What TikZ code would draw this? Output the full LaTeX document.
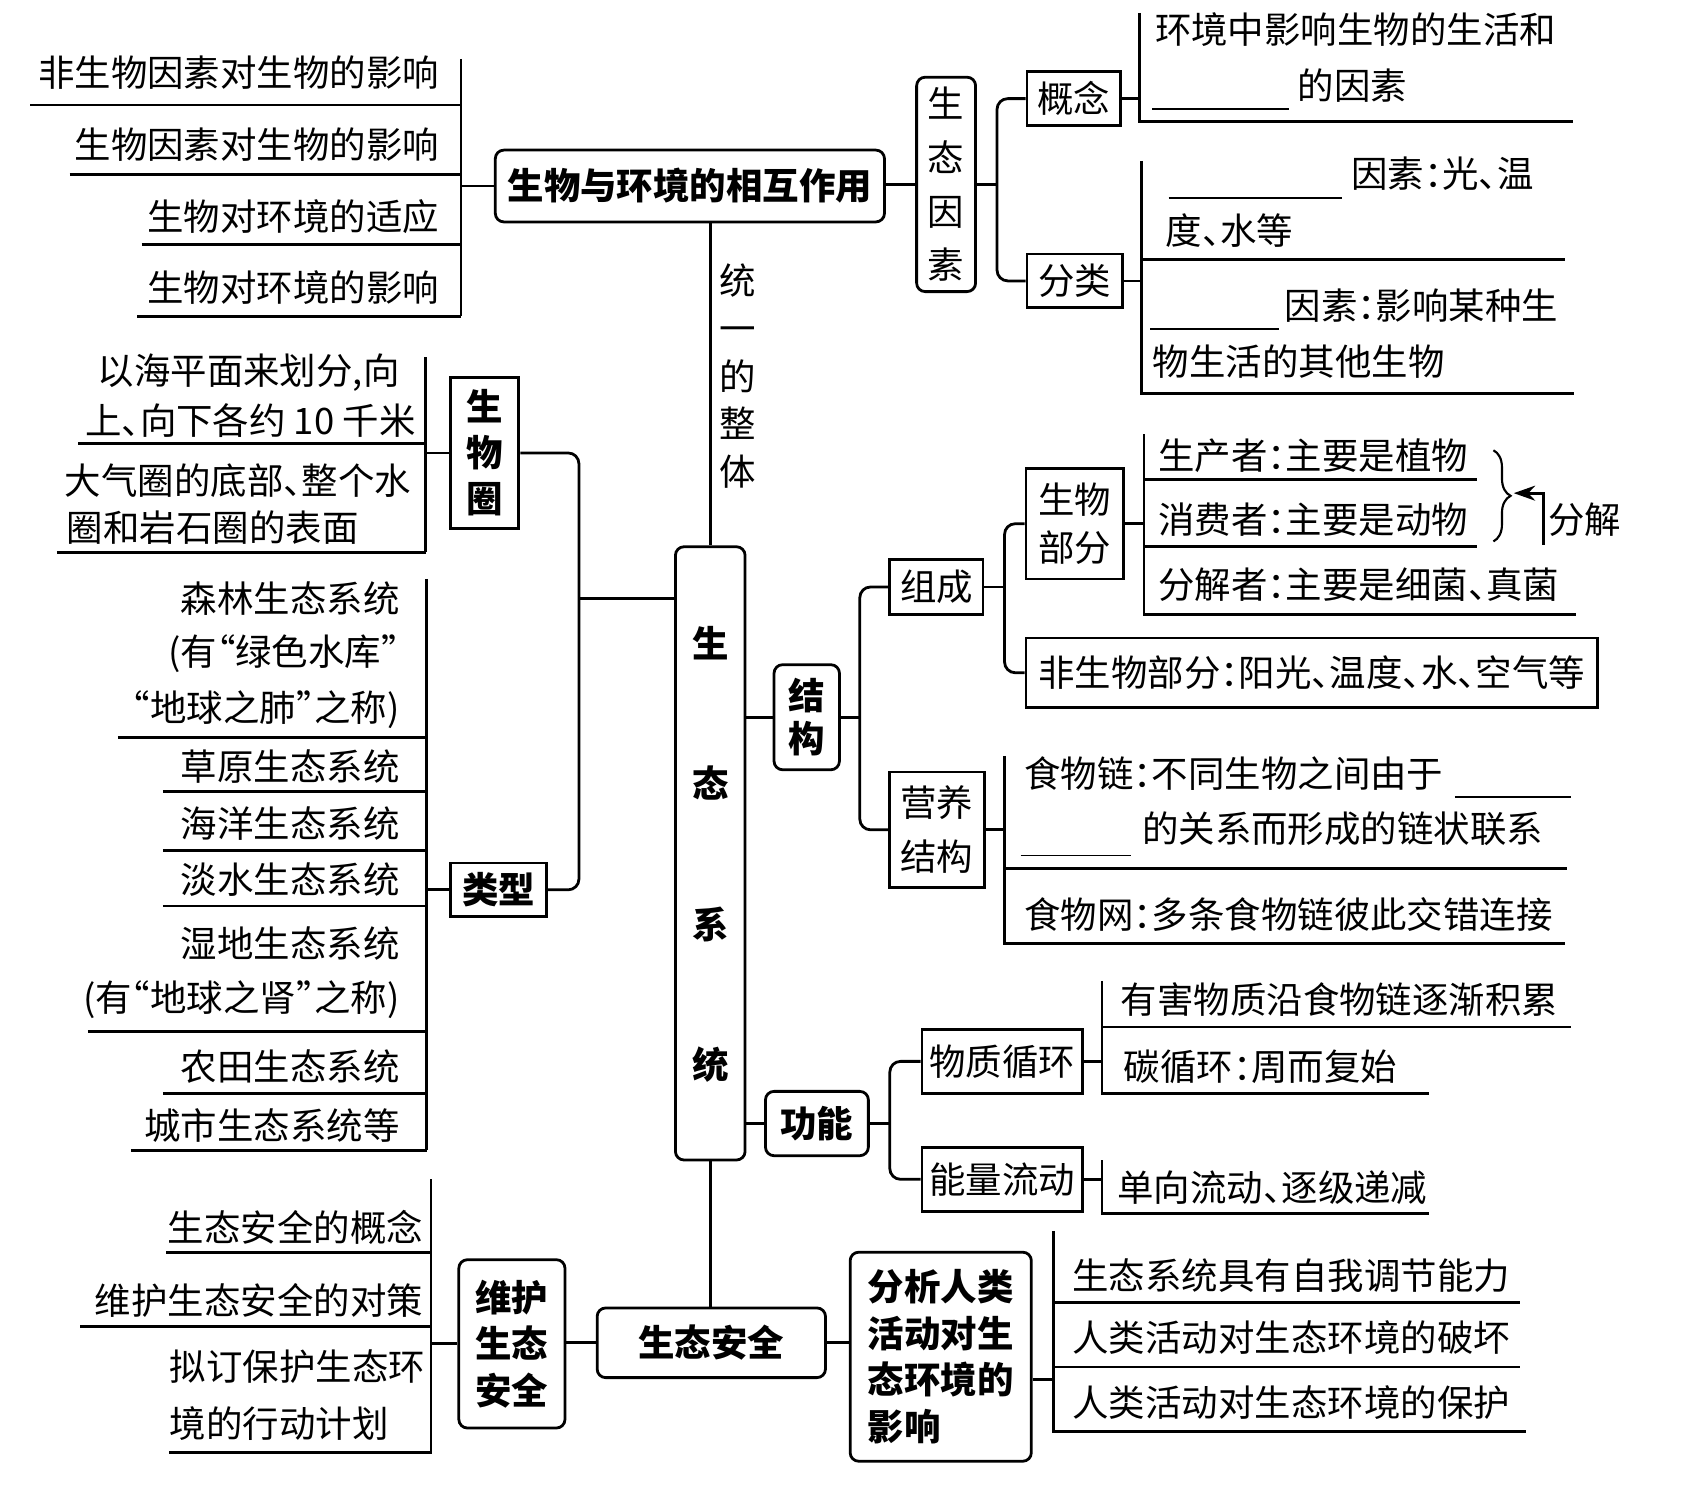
\documentclass[tikz,border=0pt]{standalone}
\usepackage{fontspec}
\setmainfont{Noto Sans CJK SC}[RawFeature=+halt]
\usetikzlibrary{decorations.pathreplacing,arrows.meta}
\begin{document}
\begin{tikzpicture}[x=0.5pt,y=-0.5pt,
  ln/.style={line width=1.3pt},
  blank/.style={line width=0.9pt},
  txt/.style={inner sep=0pt,font=\fontsize{17}{20}\selectfont},
  btxt/.style={inner sep=0pt,font=\fontsize{17}{20}\selectfont\bfseries},
  bx/.style={draw,line width=1.3pt,inner sep=0pt,align=center},
  rbx/.style={bx,rounded corners=4pt},
]
\useasboundingbox (0,0) rectangle (1568,1394);

% ---------- boxes ----------
\node[rbx,btxt,minimum width=181.5pt,minimum height=33.5pt] (top) at (643.5,173.5) {生物与环境的相互作用};
\node[rbx,txt,align=center,font=\fontsize{17}{25}\selectfont,minimum width=27.5pt,minimum height=100pt] (styz) at (882.5,172) {生\\态\\因\\素};
\node[bx,txt,minimum width=43.5pt,minimum height=25pt] (gn) at (1001.5,92) {概念};
\node[bx,txt,minimum width=44.5pt,minimum height=25pt] (fl) at (1002.5,262) {分类};
\node[bx,btxt,align=center,font=\fontsize{17}{21.5}\selectfont\bfseries,minimum width=32pt,minimum height=70.5pt] (swq) at (452,422.5) {生\\物\\圈};
\node[bx,btxt,minimum width=45pt,minimum height=25pt] (lx) at (465,830) {类型};
\node[rbx,minimum width=32.5pt,minimum height=286pt] (stxt) at (662.5,796) {};
\node[btxt] (c1) at (662.5,600) {生};
\node[btxt] (c2) at (662.5,730) {态};
\node[btxt] (c3) at (662.5,862) {系};
\node[btxt] (c4) at (662.5,993) {统};
\node[rbx,btxt,align=center,font=\fontsize{17}{20}\selectfont\bfseries,minimum width=30.5pt,minimum height=49pt] (jg) at (752.5,669) {结\\构};
\node[bx,txt,minimum width=43.5pt,minimum height=25.5pt] (zc) at (873.5,547.5) {组成};
\node[bx,txt,align=center,font=\fontsize{17}{22.5}\selectfont,minimum width=45.5pt,minimum height=51.5pt] (swbf) at (1002.5,488.5) {生物\\部分};
\node[bx,txt,minimum width=266.5pt,minimum height=32.5pt] (fsw) at (1223.5,627.5) {非生物部分：阳光、温度、水、空气等};
\node[bx,txt,align=center,font=\fontsize{17}{25}\selectfont,minimum width=44pt,minimum height=54pt] (yyjg) at (874,774) {营养\\结构};
\node[rbx,btxt,minimum width=48pt,minimum height=30pt] (gnn) at (762,1048) {功能};
\node[bx,txt,minimum width=75pt,minimum height=30pt] (wzxh) at (935,990) {物质循环};
\node[bx,txt,minimum width=75pt,minimum height=30pt] (nlld) at (935,1100) {能量流动};
\node[rbx,btxt,minimum width=106.5pt,minimum height=32.5pt] (stq) at (663.5,1252.5) {生态安全};
\node[rbx,btxt,align=center,font=\fontsize{17}{21.75}\selectfont\bfseries,minimum width=49.5pt,minimum height=78.5pt] (whaq) at (477.5,1253.5) {维护\\生态\\安全};
\node[rbx,btxt,align=left,font=\fontsize{17}{21.65}\selectfont\bfseries,minimum width=84.5pt,minimum height=97.5pt] (fx) at (877.5,1265.5) {分析人类\\活动对生\\态环境的\\影响};

% ---------- top-left ----------
\coordinate (tl) at (430,173.5);
\draw[ln] (430,55) -- (430,295);
\draw[ln] (top.west) -- (tl);
\draw[ln] (28,98) -- (430,98);
\draw[ln] (65,163) -- (430,163);
\draw[ln] (132,228) -- (430,228);
\draw[ln] (128,295) -- (430,295);
\node[txt,anchor=east] (t1) at (410,68) {非生物因素对生物的影响};
\node[txt,anchor=east] (t2) at (410,135) {生物因素对生物的影响};
\node[txt,anchor=east] (t3) at (410,202) {生物对环境的适应};
\node[txt,anchor=east] (t4) at (410,268) {生物对环境的影响};

% ---------- top-right ----------
\draw[ln] (top.east |- styz.west) -- (styz.west);
\coordinate (sj) at (930,172);
\draw[ln] (styz.east) -- (sj);
\draw[ln,rounded corners=5pt] (gn.west) -- (930,92) -- (930,262) -- (fl.west);
\coordinate (gj) at (1063,92);
\draw[ln] (gn.east) -- (gj);
\draw[ln] (1063,12) -- (1063,113) -- (1467,113);
\draw[blank] (1075,102) -- (1202,102);
\node[txt,anchor=west] (g1) at (1077,28) {环境中影响生物的生活和};
\node[txt,anchor=west] (g2) at (1210,80) {的因素};
\coordinate (fj) at (1065,262);
\draw[ln] (fl.east) -- (fj);
\draw[ln] (1065,150) -- (1065,367) -- (1468,367);
\draw[ln] (1065,242) -- (1460,242);
\draw[blank] (1090,185) -- (1252,185);
\draw[blank] (1073,307) -- (1193,307);
\node[txt,anchor=west] (f1) at (1260,162) {因素：光、温};
\node[txt,anchor=west] (f2) at (1087,215) {度、水等};
\node[txt,anchor=west] (f3) at (1198,285) {因素：影响某种生};
\node[txt,anchor=west] (f4) at (1075,337) {物生活的其他生物};

% ---------- centre spine ----------
\draw[ln] (stxt.north |- top.south) -- (stxt.north);
\node[txt,align=center,font=\fontsize{17}{22.25}\selectfont] (tyzt) at (688,351) {统\\一\\的\\整\\体};

% ---------- 生物圈 ----------
\coordinate (bj) at (397,422.5);
\draw[ln] (397,333) -- (397,515);
\draw[ln] (swq.west) -- (bj);
\draw[ln] (73,414) -- (397,414);
\draw[ln] (53,515) -- (397,515);
\node[txt,anchor=east] (b1) at (373,348) {以海平面来划分,向};
\node[txt,anchor=east] (b2) at (388,392) {上、向下各约 10 千米};
\node[txt,anchor=west] (b3) at (60,448) {大气圈的底部、整个水};
\node[txt,anchor=west] (b4) at (62,492) {圈和岩石圈的表面};
\draw[ln,rounded corners=5pt] (swq.east) -- (540,422.5) -- (540,830) -- (lx.east);
\coordinate (lj) at (540,558);
\draw[ln] (lj) -- (lj -| stxt.west);

% ---------- 类型 ----------
\coordinate (xj) at (398,830);
\draw[ln] (398,540) -- (398,1073);
\draw[ln] (lx.west) -- (xj);
\draw[ln] (110,688) -- (398,688);
\draw[ln] (152,738) -- (398,738);
\draw[ln] (152,793) -- (398,793);
\draw[ln] (152,845) -- (398,845);
\draw[ln] (82,962) -- (398,962);
\draw[ln] (152,1020) -- (398,1020);
\draw[ln] (122,1073) -- (398,1073);
\node[txt,anchor=east] (l1) at (373,558) {森林生态系统};
\node[txt,anchor=east] (l2) at (373,610) {(有“绿色水库”};
\node[txt,anchor=east] (l3) at (373,662) {“地球之肺”之称)};
\node[txt,anchor=east] (l4) at (373,715) {草原生态系统};
\node[txt,anchor=east] (l5) at (373,768) {海洋生态系统};
\node[txt,anchor=east] (l6) at (373,820) {淡水生态系统};
\node[txt,anchor=east] (l7) at (373,880) {湿地生态系统};
\node[txt,anchor=east] (l8) at (373,932) {(有“地球之肾”之称)};
\node[txt,anchor=east] (l9) at (373,995) {农田生态系统};
\node[txt,anchor=east] (l10) at (373,1050) {城市生态系统等};

% ---------- 结构 ----------
\draw[ln] (stxt.east |- jg.west) -- (jg.west);
\coordinate (jj) at (802,669);
\draw[ln] (jg.east) -- (jj);
\draw[ln,rounded corners=5pt] (zc.west) -- (802,547.5) -- (802,774) -- (yyjg.west);
\coordinate (zj) at (937,547.5);
\draw[ln] (zc.east) -- (zj);
\draw[ln,rounded corners=5pt] (swbf.west) -- (937,488.5) -- (937,627.5) -- (fsw.west);
\coordinate (wj) at (1067,488.5);
\draw[ln] (swbf.east) -- (wj);
\draw[ln] (1067,405) -- (1067,573) -- (1470,573);
\draw[ln] (1067,447) -- (1378,447);
\draw[ln] (1067,510) -- (1378,510);
\node[txt,anchor=west] (w1) at (1080,425) {生产者：主要是植物};
\node[txt,anchor=west] (w2) at (1080,485) {消费者：主要是动物};
\node[txt,anchor=west] (w3) at (1080,545) {分解者：主要是细菌、真菌};
\draw[line width=1pt,decorate,decoration={brace,amplitude=8pt}] (1393,420) -- (1393,505);
\coordinate (brtip) at (1412,460);
\coordinate (arst) at (1440,508);
\draw[line width=1.3pt,-{Stealth[length=10pt,width=7pt]}] (arst) |- (brtip);
\node[txt] (fjie) at (1478,485) {分解};

\coordinate (yj) at (937,774);
\draw[ln] (yyjg.east) -- (yj);
\draw[ln] (937,705) -- (937,880) -- (1460,880);
\draw[ln] (937,810) -- (1462,810);
\draw[blank] (1357,743) -- (1465,743);
\draw[blank] (952,798) -- (1055,798);
\node[txt,anchor=west] (y1) at (955,722) {食物链：不同生物之间由于};
\node[txt,anchor=west] (y2) at (1065,773) {的关系而形成的链状联系};
\node[txt,anchor=west] (y3) at (955,853) {食物网：多条食物链彼此交错连接};

% ---------- 功能 ----------
\draw[ln] (stxt.east |- gnn.west) -- (gnn.west);
\coordinate (nj) at (830,1048);
\draw[ln] (gnn.east) -- (nj);
\draw[ln,rounded corners=5pt] (wzxh.west) -- (830,990) -- (830,1100) -- (nlld.west);
\coordinate (mj) at (1028,990);
\draw[ln] (wzxh.east) -- (mj);
\draw[ln] (1028,915) -- (1028,1020) -- (1333,1020);
\draw[ln] (1028,958) -- (1465,958);
\coordinate (ej) at (1028,1100);
\draw[ln] (nlld.east) -- (ej);
\draw[ln] (1028,1082) -- (1028,1132) -- (1333,1132);
\node[txt,anchor=west] (m1) at (1045,932) {有害物质沿食物链逐渐积累};
\node[txt,anchor=west] (m2) at (1048,995) {碳循环：周而复始};
\node[txt,anchor=west] (e1) at (1042,1108) {单向流动、逐级递减};

% ---------- 生态安全 ----------
\draw[ln] (stxt.south) -- (stxt.south |- stq.north);
\draw[ln] (stq.west) -- (stq.west -| whaq.east);
\draw[ln] (stq.east) -- (stq.east -| fx.west);
\coordinate (hj) at (402,1253.5);
\draw[ln] (whaq.west) -- (hj);
\draw[ln] (402,1100) -- (402,1355) -- (158,1355);
\draw[ln] (155,1168) -- (402,1168);
\draw[ln] (75,1237) -- (402,1237);
\node[txt,anchor=east] (h1) at (395,1145) {生态安全的概念};
\node[txt,anchor=east] (h2) at (395,1213) {维护生态安全的对策};
\node[txt,anchor=west] (h3) at (158,1275) {拟订保护生态环};
\node[txt,anchor=west] (h4) at (158,1328) {境的行动计划};

\coordinate (xj2) at (983,1287);
\draw[ln] (xj2 -| fx.east) -- (xj2);
\draw[ln] (983,1148) -- (983,1335) -- (1423,1335);
\draw[ln] (983,1215) -- (1418,1215);
\draw[ln] (983,1275) -- (1418,1275);
\node[txt,anchor=west] (x1) at (1000,1190) {生态系统具有自我调节能力};
\node[txt,anchor=west] (x2) at (1000,1248) {人类活动对生态环境的破坏};
\node[txt,anchor=west] (x3) at (1000,1308) {人类活动对生态环境的保护};
\end{tikzpicture}
\end{document}
